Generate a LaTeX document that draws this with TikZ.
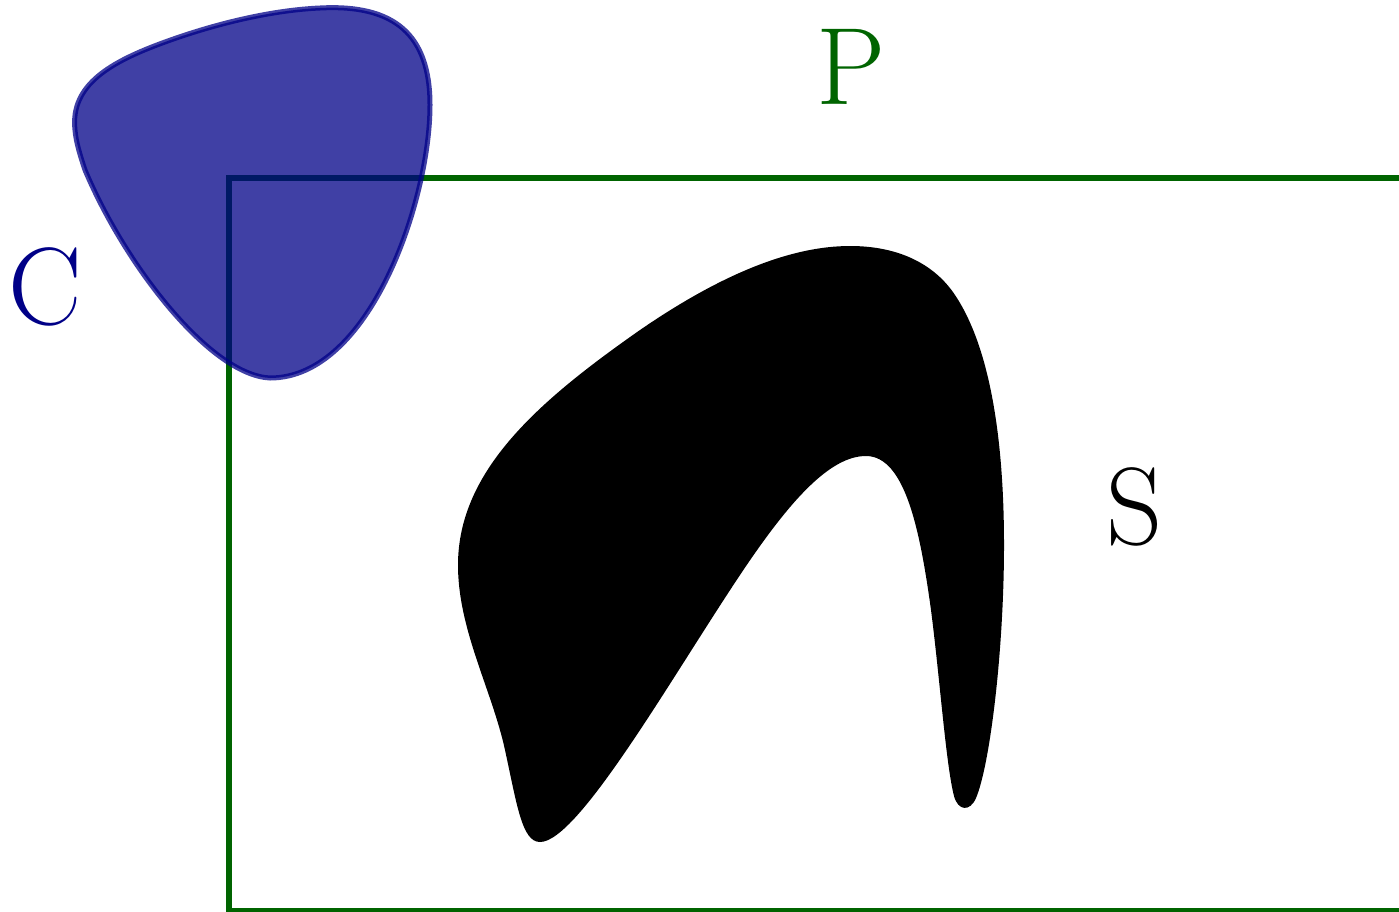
\documentclass[tikz,border=0pt]{standalone}
\usepackage{fontspec}
\definecolor{pgreen}{RGB}{0,100,0}
\definecolor{cnavy}{RGB}{0,0,135}
\tikzset{
  label/.style={inner sep=0pt, font=\fontsize{110}{120}\selectfont},
  region/.style={draw=pgreen, line width=5.5pt},
  blob/.style={draw=cnavy, fill=cnavy, opacity=0.75, line width=5pt},
}
\begin{document}
\begin{tikzpicture}[x=1pt,y=-1pt]
\useasboundingbox (0,0) rectangle (1399,911);
\clip (0,0) rectangle (1399,911);
% region P
\draw[region] (229,178) rectangle (1430,911);
% shape S
\fill[black] (540,842)
  .. controls (522,842) and (517,805) .. (505,750)
  .. controls (492,690) and (458,630) .. (458,565)
  .. controls (458,470) and (540,400) .. (640,330)
  .. controls (720,275) and (790,246) .. (850,246)
  .. controls (900,246) and (935,265) .. (955,295)
  .. controls (995,355) and (1004,460) .. (1004,545)
  .. controls (1004,650) and (990,765) .. (976,798)
  .. controls (970,812) and (958,811) .. (954,796)
  .. controls (946,765) and (940,680) .. (931,610)
  .. controls (920,530) and (905,456) .. (866,456)
  .. controls (830,456) and (790,500) .. (740,575)
  .. controls (670,680) and (578,842) .. (540,842) -- cycle;
% blob C
\path[blob] (75,130)
  .. controls (70,85) and (110,62) .. (165,42)
  .. controls (220,22) and (275,10) .. (320,8)
  .. controls (395,4) and (430,35) .. (430,105)
  .. controls (430,200) and (370,378) .. (270,378)
  .. controls (210,375) and (125,265) .. (85,170)
  .. controls (80,155) and (76,142) .. (75,130) -- cycle;
\node[label, text=pgreen] (P) at (851,67) {P};
\node[label, text=cnavy] (C) at (45,287) {C};
\node[label, text=black] (S) at (1135,507) {S};
\end{tikzpicture}
\end{document}
